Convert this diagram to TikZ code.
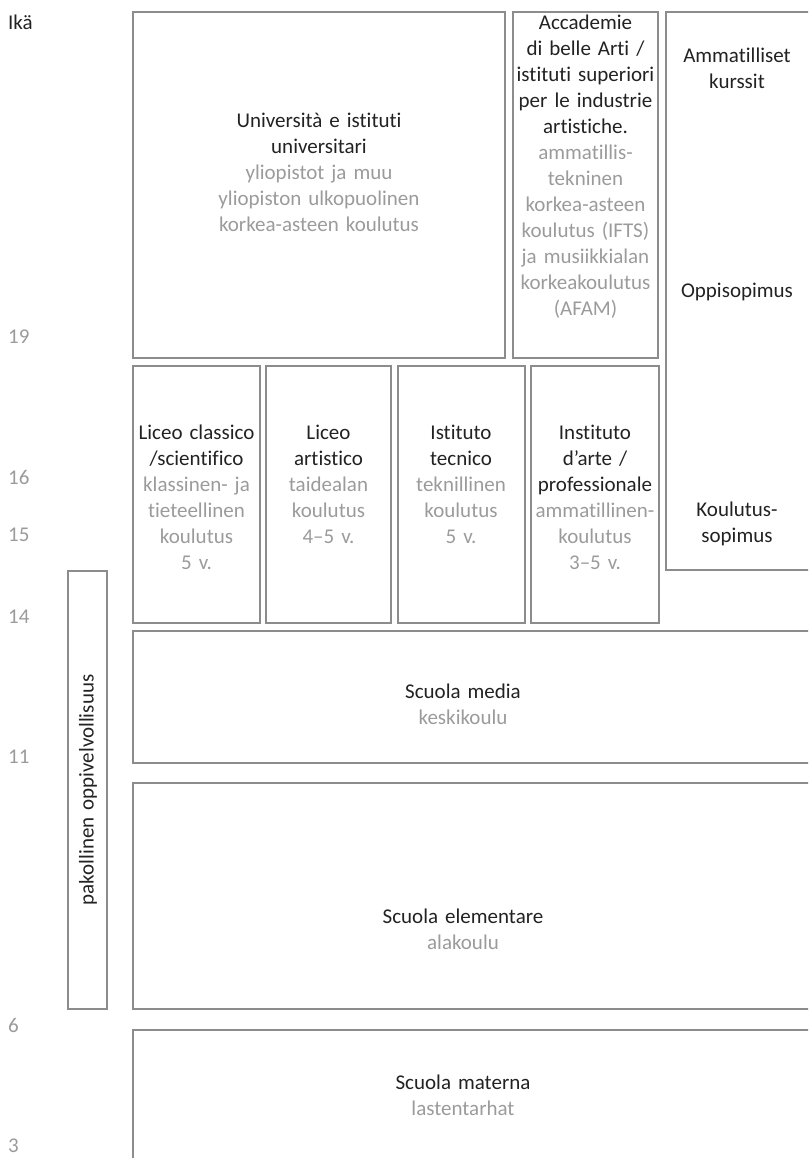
\documentclass[tikz,border=0pt]{standalone}
\usepackage{fontspec}
\setmainfont{Carlito}[Ligatures=NoCommon]
\definecolor{linegray}{HTML}{8C8C8C}
\definecolor{fingray}{HTML}{9B9B9B}
\definecolor{itblack}{HTML}{222222}
\newcommand{\fitxt}[1]{{\color{fingray}#1}}
\tikzset{
  box/.style={draw=linegray,line width=1.2pt},
  lbl/.style={align=center,text width=#1,text=itblack,inner sep=0pt,
    font=\fontsize{21}{26}\selectfont},
  age/.style={anchor=west,text=fingray,inner sep=0pt,
    font=\fontsize{21}{26}\selectfont}
}

\begin{document}
\begin{tikzpicture}[x=1pt,y=-1pt]
   \clip (0,0) rectangle (808,1158);
   \draw[box] (133,12) rectangle (505,358);
   \draw[box] (513,12) rectangle (658,358);
   \draw[box] (666,12) rectangle (830,570);
   \draw[box] (133,366) rectangle (260,623);
   \draw[box] (266,366) rectangle (391,623);
   \draw[box] (398,366) rectangle (525,623);
   \draw[box] (531,366) rectangle (659,623);
   \draw[box] (133,631) rectangle (830,763);
   \draw[box] (133,783) rectangle (830,1009);
   \draw[box] (133,1030) rectangle (830,1180);
   \draw[box] (68,571) rectangle (107,1009);

   \node[age,text=itblack] (ika) at (8,22) {Ikä};
   \node[age] (a19) at (8,337) {19};
   \node[age] (a16) at (8,477) {16};
   \node[age] (a15) at (8,535) {15};
   \node[age] (a14) at (8,617) {14};
   \node[age] (a11) at (8,757) {11};
   \node[age] (a6) at (8,1025) {6};
   \node[age] (a3) at (8,1146) {3};

   \node[lbl=360] (uni) at (319,172) {Università e istituti\\universitari\\
     \fitxt{yliopistot ja muu\\yliopiston ulkopuolinen\\korkea-asteen koulutus}};
   \node[lbl=145] (acc) at (585.5,167) {Accademie\\di belle Arti /\\istituti superiori\\
     per le industrie\\artistiche.\\\fitxt{ammatillis-\\tekninen\\korkea-asteen\\
     koulutus (IFTS)\\ja musiikkialan\\korkeakoulutus\\(AFAM)}};
   \node[lbl=140] (kurssit) at (737,68) {Ammatilliset\\kurssit};
   \node[lbl=140] (oppi) at (737,292) {Oppisopimus};
   \node[lbl=140] (koul) at (737,524) {Koulutus-\\sopimus};

   \node[lbl=127] (classico) at (196.5,497) {Liceo classico\\/scientifico\\
     \fitxt{klassinen- ja\\tieteellinen\\koulutus\\5 v.}};
   \node[lbl=125] (artistico) at (328.5,484) {Liceo\\artistico\\
     \fitxt{taidealan\\koulutus\\4–5 v.}};
   \node[lbl=127] (tecnico) at (461,484) {Istituto\\tecnico\\
     \fitxt{teknillinen\\koulutus\\5 v.}};
   \node[lbl=128] (arte) at (595,497) {Instituto\\d’arte /\\professionale\\
     \fitxt{ammatillinen-\\koulutus\\3–5 v.}};

   \node[lbl=300] (media) at (463,704) {Scuola media\\\fitxt{keskikoulu}};
   \node[lbl=300] (elem) at (463,929) {Scuola elementare\\\fitxt{alakoulu}};
   \node[lbl=300] (materna) at (463,1095) {Scuola materna\\\fitxt{lastentarhat}};
   \node[lbl=300,rotate=90] (pak) at (88,790) {pakollinen oppivelvollisuus};
\end{tikzpicture}
\end{document}
